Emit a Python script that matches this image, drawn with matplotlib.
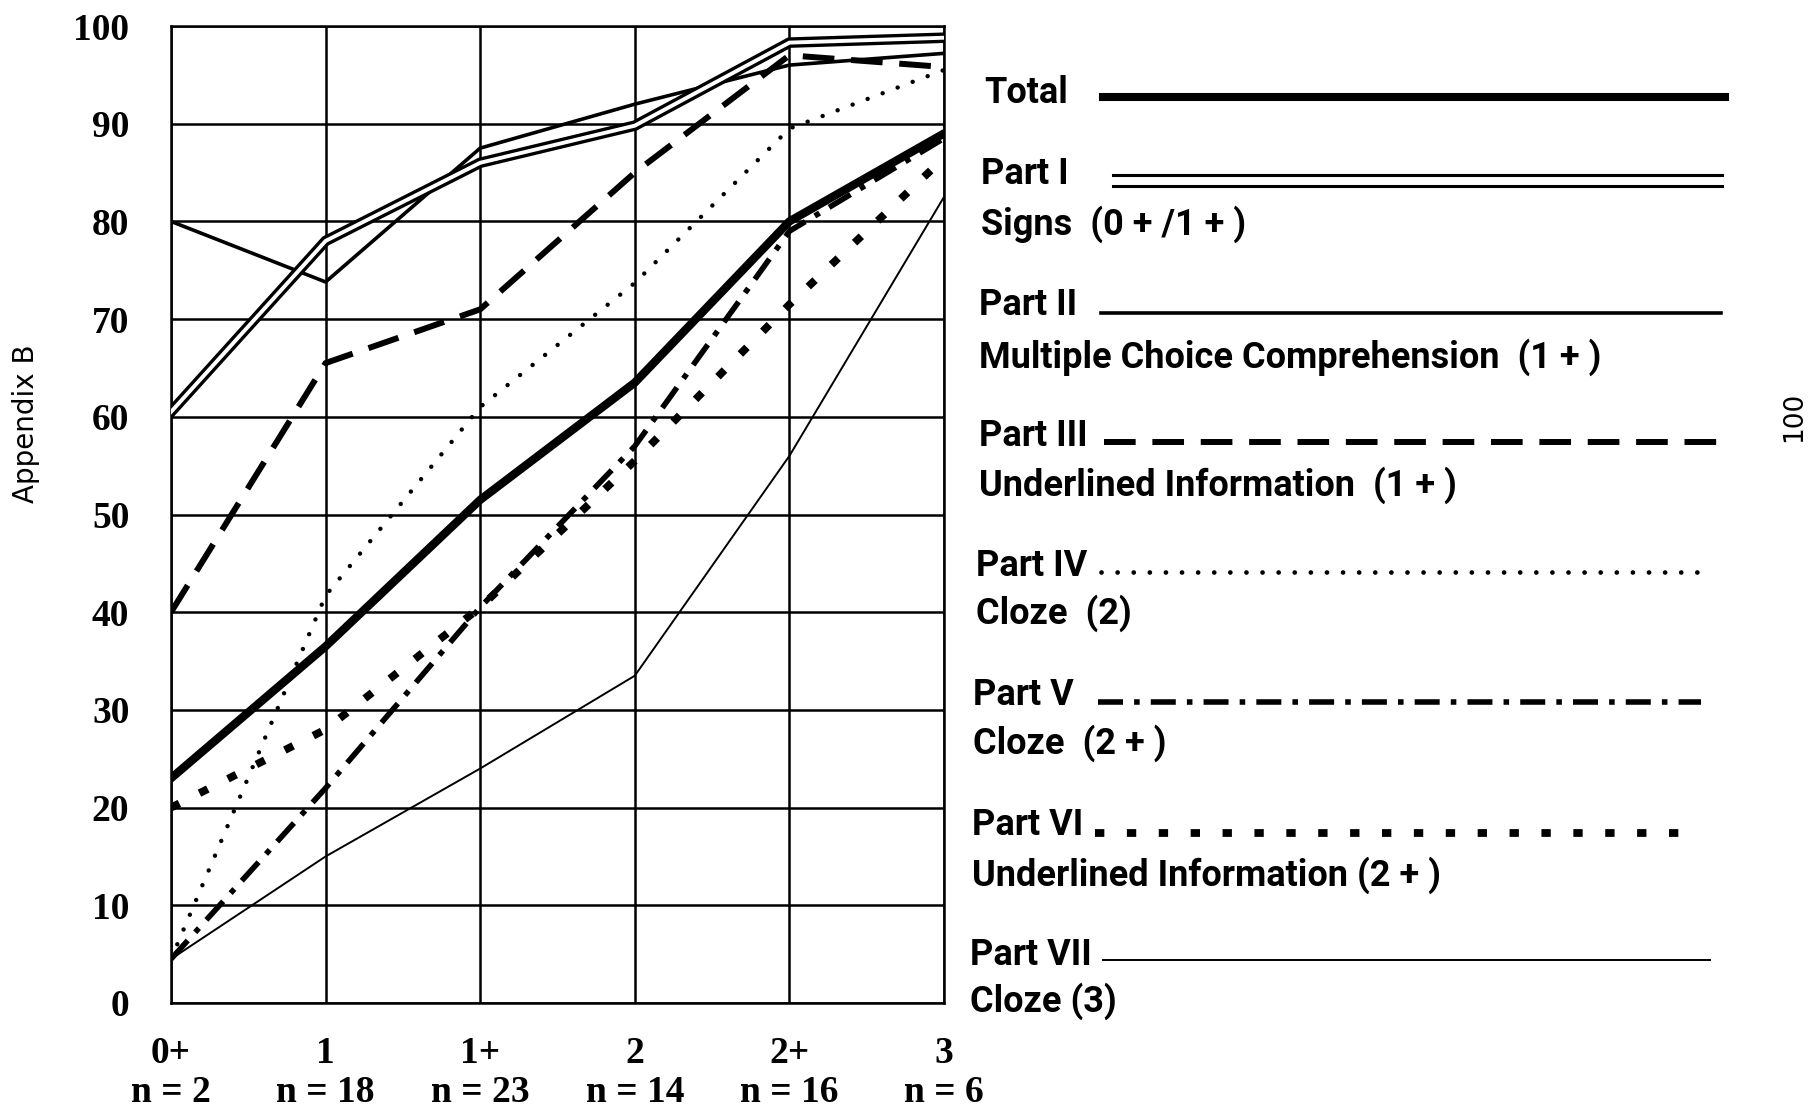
import matplotlib
matplotlib.use("Agg")
import matplotlib.pyplot as plt
from matplotlib.lines import Line2D

# ---- data ----
categories = ['0+', '1', '1+', '2', '2+', '3']
n_values = [2, 18, 23, 14, 16, 6]
total = [23, 36.5, 51.5, 63.5, 80, 89]
part1 = [60.5, 78, 86, 89.8, 98.3, 98.8]
part2 = [80, 73.8, 87.5, 92, 96, 97.2]
part3 = [40, 65.5, 71, 85, 97, 95.8]
part4 = [4.5, 41.7, 61, 73.7, 89.5, 95.5]
part5 = [4.5, 22, 40.5, 57, 79, 88.5]
part6 = [20, 28, 40.5, 55.5, 71.5, 86.5]
part7 = [4.5, 15, 24, 33.5, 56, 82.5]
y_ticks = [0, 10, 20, 30, 40, 50, 60, 70, 80, 90, 100]

legend_titles = ['Total', 'Part I', 'Part II', 'Part III', 'Part IV', 'Part V', 'Part VI', 'Part VII']
legend_subs = ['', 'Signs  (0 + /1 + )', 'Multiple Choice Comprehension  (1 + )',
               'Underlined Information  (1 + )', 'Cloze  (2)', 'Cloze  (2 + )',
               'Underlined Information (2 + )', 'Cloze (3)']

W, H = 1812, 1115
fig = plt.figure(figsize=(W / 100, H / 100), dpi=100)
fig.patch.set_facecolor('white')

L, R, T, B = 171, 944, 26, 1003
ax = fig.add_axes([L / W, 1 - B / H, (R - L) / W, (B - T) / H])
x = list(range(len(categories)))

ax.set_xlim(0, 5)
ax.set_ylim(0, 100)
for s in ax.spines.values():
    s.set_linewidth(1.8)
    s.set_color('black')
ax.set_yticks(y_ticks)
ax.set_xticks(x)
ax.grid(True, color='black', linewidth=1.8)
ax.set_axisbelow(True)
ax.tick_params(length=0)

serif = dict(family=['Liberation Serif', 'DejaVu Serif'], weight='bold')
ax.set_yticklabels([str(v) for v in y_ticks], fontsize=27, **serif)
ax.tick_params(axis='y', pad=30)
ax.set_xticklabels([f"{c}\nn = {n}" for c, n in zip(categories, n_values)],
                   fontsize=27, linespacing=1.15, **serif)
ax.tick_params(axis='x', pad=24)

# series
ax.plot(x, part7, color='black', lw=1.4, zorder=3)
ax.plot(x, part2, color='black', lw=2.6, zorder=3)
ax.plot(x, part1, color='black', lw=7.6, zorder=4, solid_joinstyle='miter')
ax.plot(x, part1, color='white', lw=2.8, zorder=4.1)
ax.plot(x, part3, color='black', lw=4.3, linestyle=(0, (5.3, 2.8)), zorder=5)
ax.plot(x, part4, color='black', lw=3.2, linestyle=(0, (0.01, 3.6)),
        dash_capstyle='round', zorder=5)
ax.plot(x, part5, color='black', lw=4.0, linestyle=(0, (4.5, 2, 1, 2)), zorder=5)
ax.plot(x, part6, color='black', lw=5.6, linestyle=(0, (1.2, 2.9)), zorder=5)
ax.plot(x, total, color='black', lw=6.0, zorder=6)

# legend (drawn as text + sample lines)
sans = dict(family=['Liberation Sans Narrow', 'Roboto', 'DejaVu Sans'], weight='bold')
title_pos = [(984, 93), (981, 174), (979, 305), (979, 436), (976, 566), (973, 695), (972, 825), (970, 955)]
sub_pos = [None, (981, 224), (979, 357), (979, 485), (976, 613), (973, 743), (972, 875), (970, 1001)]
line_spans = [(1103, 1725, 97), (1113, 1722, 180), (1101, 1721, 313), (1104, 1719, 442),
              (1101, 1705, 572), (1098, 1701, 702), (1095, 1691, 833), (1103, 1710, 960)]
styles = [
    [dict(lw=5.8, ls='-')],
    [dict(lw=2.2, ls='-', dy=-5.5), dict(lw=2.2, ls='-', dy=5.5)],
    [dict(lw=2.6, ls='-')],
    [dict(lw=4.3, ls=(0, (5.3, 2.8)))],
    [dict(lw=3.4, ls=(0, (0.01, 3.4)), dash_capstyle='round')],
    [dict(lw=4.0, ls=(0, (4.5, 2, 1, 2)))],
    [dict(lw=5.6, ls=(0, (1.2, 2.9)))],
    [dict(lw=1.4, ls='-')],
]
for i, title in enumerate(legend_titles):
    tx, ty = title_pos[i]
    fig.text(tx / W, 1 - ty / H, title, fontsize=26, va='center', ha='left', **sans)
    if sub_pos[i] is not None:
        sx, sy = sub_pos[i]
        fig.text(sx / W, 1 - sy / H, legend_subs[i], fontsize=26, va='center', ha='left', **sans)
    x0, x1, ly = line_spans[i]
    for st in styles[i]:
        st = dict(st)
        lw = st.pop('lw')
        ls = st.pop('ls')
        dy = st.pop('dy', 0)
        yy = 1 - (ly + dy) / H
        fig.add_artist(Line2D([x0 / W, x1 / W], [yy, yy], color='black',
                              linewidth=lw, linestyle=ls, transform=fig.transFigure, **st))

fig.text(26 / W, 1 - 424 / H, 'Appendix B', rotation=90, fontsize=20,
         family=['DejaVu Sans'], va='center', ha='center')
fig.text(1794 / W, 1 - 417 / H, '100', rotation=90, fontsize=19,
         family=['DejaVu Sans'], va='center', ha='center')

fig.savefig('out.png', dpi=100, facecolor='white')
